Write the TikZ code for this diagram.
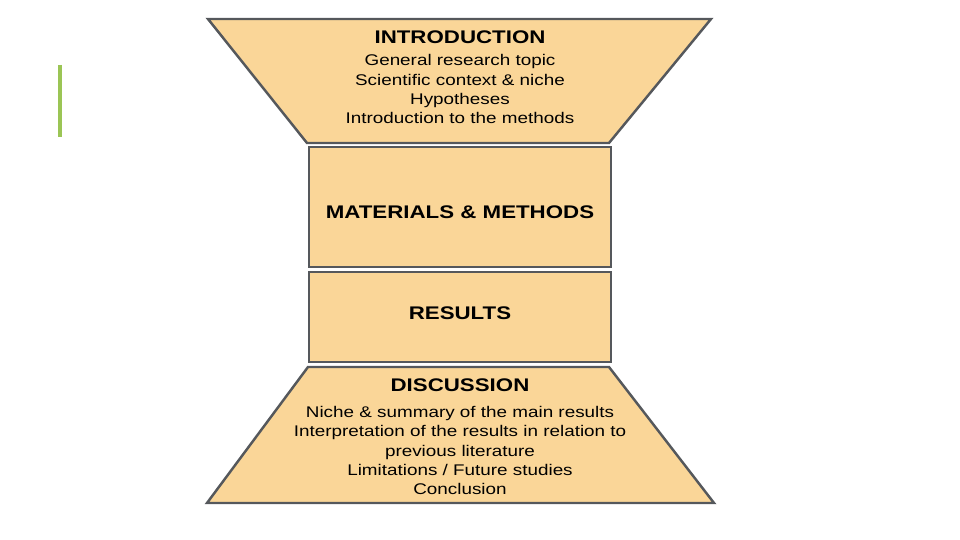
\documentclass[tikz,border=0pt]{standalone}
\usepackage{fontspec}
\setmainfont[FakeStretch=1.22]{Liberation Sans}
\usetikzlibrary{positioning}
\definecolor{funnelfill}{RGB}{250,214,152}
\definecolor{funnelline}{RGB}{85,88,92}
\definecolor{accentgreen}{RGB}{155,197,85}

\begin{document}
\begin{tikzpicture}[x=0.02cm, y=-0.02cm,
  part/.style={fill=funnelfill, draw=funnelline, line width=1.4pt},
  head/.style={font=\fontsize{10.4}{12}\selectfont\bfseries, inner sep=0pt},
  body/.style={font=\fontsize{8.8}{11}\selectfont, align=center, inner sep=0pt}]
\useasboundingbox (0,0) rectangle (960,540);
% accent bar
\draw[accentgreen, line width=1.8pt] (60,65) -- (60,137);
% funnel parts
\draw[part] (208,19) -- (711,19) -- (609,143) -- (307,143) -- cycle;
\draw[part] (309,147) rectangle (611,267);
\draw[part] (309,272) rectangle (611,362);
\draw[part] (308,367) -- (609,367) -- (714,503) -- (207,503) -- cycle;
% texts
\node[head] (intro) at (460,37) {INTRODUCTION};
\node[body, below=6pt of intro] (introtext) {General research topic\\
  Scientific context \& niche\\ Hypotheses\\ Introduction to the methods};
\node[head] (methods) at (460,212) {MATERIALS \& METHODS};
\node[head] (results) at (460,313) {RESULTS};
\node[head] (discuss) at (460,385) {DISCUSSION};
\node[body, below=8pt of discuss] (discusstext) {Niche \& summary of the main results\\
  Interpretation of the results in relation to\\ previous literature\\
  Limitations / Future studies\\ Conclusion};
\end{tikzpicture}
\end{document}
